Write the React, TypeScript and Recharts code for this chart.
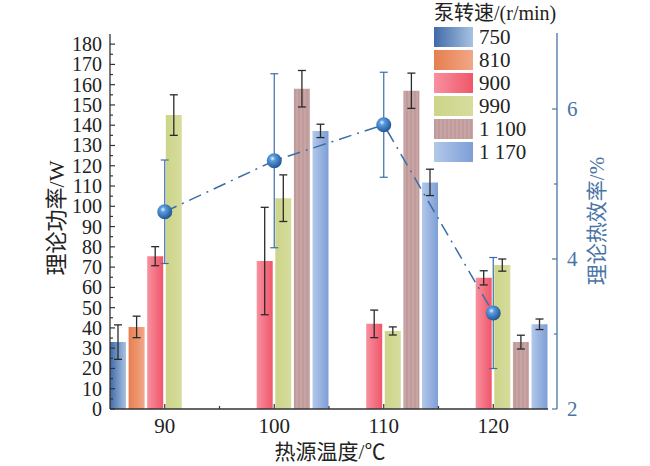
import React from 'react'
import { ComposedChart, Bar, Line, XAxis, YAxis, ErrorBar } from 'recharts'

// values
const temps = [90, 100, 110, 120]
const speedLabels = ['750', '810', '900', '990', '1 100', '1 170']

const power750 = [33, null, null, null]
const power810 = [40.5, null, null, null]
const power900 = [75.4, 73, 42, 64.7]
const power990 = [145, 104, 38.5, 71]
const power1100 = [null, 158, 157, 33]
const power1170 = [null, 137.2, 111.8, 41.8]

const err750 = [8.5, null, null, null]
const err810 = [5.3, null, null, null]
const err900 = [4.7, 26.5, 6.8, 3.5]
const err990 = [10, 11.5, 2, 3]
const err1100 = [null, 9, 8.7, 3.4]
const err1170 = [null, 3.3, 6.5, 2.6]

const efficiency = [4.63, 5.31, 5.79, 3.28]
const efficiencyErr = [0.69, 1.16, 0.7, 0.74]

const powerTicks = [
  0, 5, 10, 15, 20, 25, 30, 35, 40, 45, 50, 55, 60, 65, 70, 75, 80, 85, 90,
  95, 100, 105, 110, 115, 120, 125, 130, 135, 140, 145, 150, 155, 160, 165,
  170, 175, 180,
]
const tempTicks = [90, 95, 100, 105, 110, 115, 120]
const effTicks = [2, 3, 4, 5, 6]

const powerSeries = [power750, power810, power900, power990, power1100, power1170]
const errSeries = [err750, err810, err900, err990, err1100, err1170]

const FILLS = ['url(#g750)', 'url(#g810)', 'url(#g900)', 'url(#g990)', 'url(#p1100)', 'url(#g1170)']
const SWATCH_CSS = [
  'linear-gradient(90deg, #3f6aa8, #a9c2e2)',
  'linear-gradient(90deg, #e67f4f, #f2a687)',
  'linear-gradient(90deg, #f7919f, #f0566a)',
  'linear-gradient(90deg, #ccd589, #d7dc9d)',
  'repeating-linear-gradient(90deg, #c19b9b 0px, #c19b9b 2px, #c8a5a5 2px, #c8a5a5 4px)',
  'linear-gradient(90deg, #b3c8ea, #7d9ed6)',
]

const data = temps.map((t, i) => {
  const row: Record<string, number | null> = { temp: t, eff: efficiency[i], effErr: efficiencyErr[i] }
  powerSeries.forEach((s, k) => {
    row[`p${k}`] = s[i]
    row[`e${k}`] = errSeries[k][i]
  })
  return row
})

const FONT = "'Liberation Serif', 'Noto Sans CJK SC', serif"
const AXIS = '#333'
const BLUE = '#4a74a5'
const LINE_BLUE = '#3a6ea8'

function PowerTick(props: any) {
  const { x, y, payload } = props
  const major = payload.value % 10 === 0
  return (
    <g>
      <line x1={x} x2={x + (major ? 5 : 3)} y1={y} y2={y} stroke={AXIS} strokeWidth={1.2} />
      {major && (
        <text x={x - 8} y={y} textAnchor="end" dominantBaseline="central" fontFamily={FONT} fontSize={20} fill="#222">
          {payload.value}
        </text>
      )}
    </g>
  )
}

function TempTick(props: any) {
  const { x, y, payload } = props
  const major = payload.value % 10 === 0
  return (
    <g>
      <line x1={x} x2={x} y1={y} y2={y - (major ? 5 : 3)} stroke={AXIS} strokeWidth={1.2} />
      {major && (
        <text x={x} y={y + 24} textAnchor="middle" fontFamily={FONT} fontSize={21} fill="#222">
          {payload.value}
        </text>
      )}
    </g>
  )
}

// the efficiency axis sits a little to the right of the plot
const RIGHT_SHIFT = 9

function EffTick(props: any) {
  const { x, y, payload } = props
  const major = payload.value % 2 === 0
  const ax = x + RIGHT_SHIFT
  return (
    <g>
      <line x1={ax - (major ? 5 : 3)} x2={ax} y1={y} y2={y} stroke={BLUE} strokeWidth={1.2} />
      {major && (
        <text x={ax + 10} y={y} dominantBaseline="central" fontFamily={FONT} fontSize={21} fill={BLUE}>
          {payload.value}
        </text>
      )}
    </g>
  )
}

function EffAxisLine(props: any) {
  const vb = props.viewBox
  if (!vb) return null
  const ax = vb.x + RIGHT_SHIFT
  return <line x1={ax} x2={ax} y1={vb.y - 1} y2={vb.y + vb.height} stroke={BLUE} strokeWidth={1.3} />
}

function SphereDot(props: any) {
  const { cx, cy, index } = props
  if (cx == null || cy == null) return null
  return <circle key={index} cx={cx} cy={cy} r={7.5} fill="url(#sphere)" />
}

function LegendBox() {
  return (
    <div style={{ position: 'absolute', left: 434, top: 0, fontFamily: FONT, color: '#222' }}>
      <div style={{ position: 'absolute', left: 0, top: 2, fontSize: 20, whiteSpace: 'nowrap', lineHeight: '22px' }}>
        泵转速/(r/min)
      </div>
      {speedLabels.map((s, i) => (
        <div key={s} style={{ position: 'absolute', left: 0, top: 27 + i * 23, display: 'flex', alignItems: 'center', whiteSpace: 'nowrap' }}>
          <div style={{ width: 39, height: 20, background: SWATCH_CSS[i] }} />
          <span style={{ marginLeft: 6, fontSize: 21, lineHeight: '20px' }}>{s}</span>
        </div>
      ))}
    </div>
  )
}

export default function App() {
  return (
    <div style={{ position: 'absolute', left: 0, top: 0, width: 650, height: 466, background: '#fff' }}>
      <ComposedChart
        width={650}
        height={466}
        data={data}
        margin={{ top: 34, right: 42, left: 50, bottom: 17 }}
        barGap={2.6}
        barCategoryGap={0}
      >
        <defs>
          <linearGradient id="g750" x1="0" x2="1" y1="0" y2="0">
            <stop offset="0%" stopColor="#3f6aa8" />
            <stop offset="100%" stopColor="#a9c2e2" />
          </linearGradient>
          <linearGradient id="g810" x1="0" x2="1" y1="0" y2="0">
            <stop offset="0%" stopColor="#e67f4f" />
            <stop offset="100%" stopColor="#f2a687" />
          </linearGradient>
          <linearGradient id="g900" x1="0" x2="1" y1="0" y2="0">
            <stop offset="0%" stopColor="#f7919f" />
            <stop offset="100%" stopColor="#f0566a" />
          </linearGradient>
          <linearGradient id="g990" x1="0" x2="1" y1="0" y2="0">
            <stop offset="0%" stopColor="#ccd589" />
            <stop offset="100%" stopColor="#d7dc9d" />
          </linearGradient>
          <pattern id="p1100" width="4" height="10" patternUnits="userSpaceOnUse">
            <rect width="4" height="10" fill="#c19b9b" />
            <rect width="2" height="10" fill="#c8a5a5" />
          </pattern>
          <linearGradient id="g1170" x1="0" x2="1" y1="0" y2="0">
            <stop offset="0%" stopColor="#b3c8ea" />
            <stop offset="100%" stopColor="#7d9ed6" />
          </linearGradient>
          <radialGradient id="sphere" cx="0.38" cy="0.35" r="0.7">
            <stop offset="0%" stopColor="#e8f3ff" />
            <stop offset="25%" stopColor="#5a9be0" />
            <stop offset="100%" stopColor="#1c4f8c" />
          </radialGradient>
        </defs>

        <XAxis
          xAxisId="num"
          dataKey="temp"
          type="number"
          domain={[85, 125]}
          ticks={tempTicks}
          interval={0}
          allowDataOverflow
          height={40}
          axisLine={{ stroke: AXIS, strokeWidth: 1.3 }}
          tickLine={false}
          tickSize={0}
          tickMargin={0}
          tick={<TempTick />}
        />
        <XAxis xAxisId="cat" dataKey="temp" type="category" hide height={0} />
        <YAxis
          yAxisId="left"
          domain={[0, 185]}
          ticks={powerTicks}
          interval={0}
          allowDataOverflow
          width={60}
          axisLine={{ stroke: AXIS, strokeWidth: 1.3 }}
          tickLine={false}
          tickSize={0}
          tickMargin={0}
          tick={<PowerTick />}
        />
        <YAxis
          yAxisId="right"
          orientation="right"
          domain={[2, 7]}
          ticks={effTicks}
          interval={0}
          allowDataOverflow
          width={60}
          axisLine={false}
          tickLine={false}
          tickSize={0}
          tickMargin={0}
          tick={<EffTick />}
          label={(p: any) => <EffAxisLine {...p} />}
        />

        {powerSeries.map((_, k) => (
          <Bar
            key={k}
            xAxisId="cat"
            yAxisId="left"
            dataKey={`p${k}`}
            barSize={16}
            fill={FILLS[k]}
            isAnimationActive={false}
          >
            <ErrorBar dataKey={`e${k}`} width={4} stroke="#2a2a2a" strokeWidth={1.3} isAnimationActive={false} />
          </Bar>
        ))}

        <Line
          xAxisId="num"
          yAxisId="right"
          dataKey="eff"
          stroke={LINE_BLUE}
          strokeWidth={1.5}
          strokeDasharray="13 6 2 6"
          dot={<SphereDot />}
          activeDot={false}
          isAnimationActive={false}
        >
          <ErrorBar dataKey="effErr" width={4} stroke={LINE_BLUE} strokeWidth={1.2} direction="y" isAnimationActive={false} />
        </Line>

        <text x={56} y={218} transform="rotate(-90 56 218)" textAnchor="middle" dominantBaseline="central" fontFamily={FONT} fontSize={22} fill="#222">
          理论功率/W
        </text>
        <text x={597} y={221} transform="rotate(-90 597 221)" textAnchor="middle" dominantBaseline="central" fontFamily={FONT} fontSize={21} fill={BLUE}>
          理论热效率/%
        </text>
        <text x={330} y={452} textAnchor="middle" dominantBaseline="central" fontFamily={FONT} fontSize={21} fill="#222">
          热源温度/℃
        </text>
      </ComposedChart>
      <LegendBox />
    </div>
  )
}
